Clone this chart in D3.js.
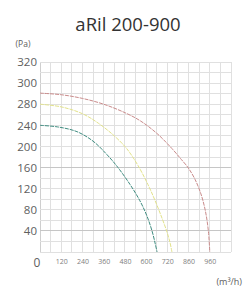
<!DOCTYPE html>
<html><head><meta charset="utf-8">
<script src="https://cdn.jsdelivr.net/npm/d3@7"></script>
<style>html,body{margin:0;padding:0;background:#fff;}svg{display:block;}</style>
</head><body>
<svg id="c" width="244" height="287"></svg>
<script>
// ---- data ----
const title = "aRil 200-900";
const xTickValues = [120, 240, 360, 480, 600, 720, 840, 960];
const xTickLabels = ["120", "240", "360", "480", "600", "720", "860", "960"];
const yTickValues = [40, 80, 120, 160, 200, 240, 280, 320, 360];
const yTickLabels = ["40", "80", "120", "160", "200", "240", "280", "300", "320"];
const seriesNames = ["teal", "yellow", "red"];
const tealCurve = [[0,240],[100,237],[209,228],[300,210],[380,184],[441,160],[509,128],[565,97],[605,68],[635,38],[652,15],[662,0]];
const yellowCurve = [[0,280],[120,275],[240,262],[330,244],[420,220],[490,196],[554,164],[610,128],[650,98],[690,64],[718,38],[735,18],[746,0]];
const redCurve = [[0,301],[120,298],[240,291],[360,280],[480,264],[565,249],[660,225],[746,196],[800,175],[837,160],[876,138],[910,110],[935,78],[952,40],[960,0]];
const seriesColors = ["#3f8c80", "#e2e28a", "#c98b8b"];

// ---- layout ----
const svg = d3.select("#c");
const x = d3.scaleLinear().domain([0, 1080]).range([40, 231]);
const y = d3.scaleLinear().domain([0, 360]).range([252, 62]);

// grid
const g = svg.append("g");
const xGrid = d3.range(0, 1081, 60);
const yGrid = d3.range(0, 361, 20);
const majorY = [40, 160];
g.selectAll("line.vx").data(xGrid).enter().append("line")
  .attr("x1", d => x(d)).attr("x2", d => x(d)).attr("y1", y(0)).attr("y2", y(360))
  .attr("stroke", d => d === 0 ? "#cfcfcf" : "#e0e0e0").attr("stroke-width", 1)
  .attr("shape-rendering", "crispEdges");
g.selectAll("line.hy").data(yGrid).enter().append("line")
  .attr("x1", x(0)).attr("x2", x(1080)).attr("y1", d => y(d)).attr("y2", d => y(d))
  .attr("stroke", d => majorY.includes(d) ? "#c6c6c6" : "#e0e0e0").attr("stroke-width", 1)
  .attr("shape-rendering", "crispEdges");

// y axis labels
const yAxis = d3.axisLeft(y).tickValues(yTickValues).tickSize(0).tickPadding(3)
  .tickFormat((d, i) => yTickLabels[i]);
const ya = svg.append("g").attr("transform", `translate(${x(0)},0)`).call(yAxis);
ya.select(".domain").remove();
ya.selectAll("text").attr("font-family", "'Open Sans', sans-serif").attr("font-size", 11.5)
  .attr("fill", "#606060");

// x axis labels
const xAxis = d3.axisBottom(x).tickValues(xTickValues).tickSize(0).tickPadding(0)
  .tickFormat((d, i) => xTickLabels[i]);
const xa = svg.append("g").attr("transform", `translate(0,259)`).call(xAxis);
xa.select(".domain").remove();
xa.selectAll("text").attr("font-family", "'Open Sans', sans-serif").attr("font-size", 7)
  .attr("fill", "#808080").attr("dy", "0.71em");

// origin label
svg.append("text").attr("x", 37).attr("y", 267).attr("text-anchor", "middle")
  .attr("font-family", "'Open Sans', sans-serif").attr("font-size", 12).attr("fill", "#606060").text("0");

// unit labels
svg.append("text").attr("x", 23).attr("y", 47).attr("text-anchor", "middle")
  .attr("font-family", "'Open Sans', sans-serif").attr("font-size", 8.5).attr("fill", "#606060").text("(Pa)");
svg.append("text").attr("x", 242).attr("y", 285).attr("text-anchor", "end")
  .attr("font-family", "'Open Sans', sans-serif").attr("font-size", 9).attr("fill", "#606060").text("(m³/h)");

// title
svg.append("text").attr("x", 128).attr("y", 31).attr("text-anchor", "middle")
  .attr("font-family", "'Open Sans', sans-serif").attr("font-size", 18.5).attr("font-weight", 500)
  .attr("fill", "#333").text(title);

// curves
const line = d3.line().x(d => x(d[0])).y(d => y(d[1])).curve(d3.curveCatmullRom.alpha(0.5));
const curves = [tealCurve, yellowCurve, redCurve];
svg.append("g").selectAll("path").data(curves).enter().append("path")
  .attr("d", line).attr("fill", "none")
  .attr("stroke", (d, i) => seriesColors[i]).attr("stroke-width", 1)
  .attr("stroke-dasharray", "4,1");
</script>
</body></html>
